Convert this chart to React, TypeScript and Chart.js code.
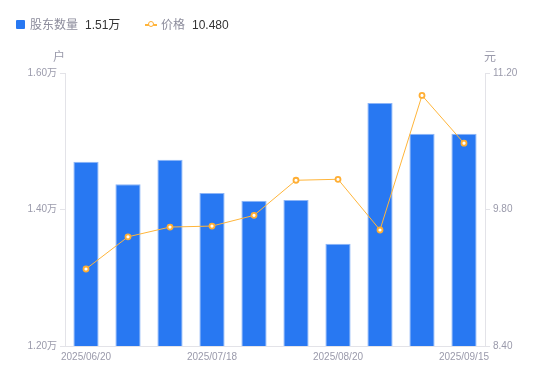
import React, { useEffect, useRef } from "react";
import { Chart, registerables } from "chart.js";

Chart.register(...registerables);

const categories = [
  "2025/06/20", "2025/06/30", "2025/07/10", "2025/07/18", "2025/07/31",
  "2025/08/08", "2025/08/20", "2025/08/31", "2025/09/10", "2025/09/15",
];
const holders = [1.47, 1.437, 1.473, 1.424, 1.413, 1.414, 1.35, 1.556, 1.511, 1.511];
const prices = [9.19, 9.52, 9.62, 9.63, 9.74, 10.10, 10.11, 9.59, 10.97, 10.48];
const leftTicks = [1.2, 1.4, 1.6];
const rightTicks = [8.4, 9.8, 11.2];

const FONT = "'Liberation Sans', 'Noto Sans CJK SC', sans-serif";
const GRAY = "#9a9aab";
const AXIS = "#e3e3e8";

export default function App() {
  const ref = useRef<HTMLCanvasElement | null>(null);
  useEffect(() => {
    if (!ref.current) return;
    const titles = {
      id: "axisTitles",
      afterDraw(chart: any) {
        const ctx = chart.ctx;
        const ca = chart.chartArea;
        ctx.save();
        ctx.font = "12px " + FONT;
        ctx.fillStyle = GRAY;
        ctx.textBaseline = "middle";
        ctx.textAlign = "center";
        ctx.fillText("户", ca.left - 6, 58);
        ctx.fillText("元", ca.right + 5, 58);
        ctx.restore();
      },
    };
    const chart = new Chart(ref.current, {
      type: "bar",
      data: {
        labels: categories,
        datasets: [
          {
            type: "line",
            label: "价格",
            data: prices,
            yAxisID: "y1",
            borderColor: "#FFB53A",
            borderWidth: 1,
            pointRadius: 2.5,
            pointBorderWidth: 1.8,
            pointBackgroundColor: "#ffffff",
            pointBorderColor: "#FFAE33",
            tension: 0,
            order: 0,
          } as any,
          {
            type: "bar",
            label: "股东数量",
            data: holders,
            yAxisID: "y",
            backgroundColor: "#2878F2",
            borderColor: "#8db5f7",
            borderWidth: { top: 1, left: 1, right: 1, bottom: 0 },
            categoryPercentage: 1,
            barPercentage: 0.6,
            order: 1,
          } as any,
        ],
      },
      options: {
        animation: false,
        responsive: false,
        maintainAspectRatio: false,
        layout: { padding: { top: 73, left: 0, right: 0, bottom: 0 } },
        plugins: { legend: { display: false }, tooltip: { enabled: false } },
        scales: {
          x: {
            grid: { display: false, drawTicks: false },
            border: { display: true, color: AXIS, width: 1 },
            afterFit: (s: any) => { s.height = 35; },
            ticks: {
              autoSkip: false,
              maxRotation: 0,
              padding: 5,
              color: GRAY,
              font: { size: 10, family: FONT },
              callback: (_v: any, i: number) => (i % 3 === 0 ? categories[i] : ""),
            },
          },
          y: {
            position: "left",
            min: 1.2,
            max: 1.6,
            afterFit: (s: any) => { s.width = 65; },
            afterBuildTicks: (s: any) => { s.ticks = leftTicks.map((v) => ({ value: v })); },
            grid: { drawOnChartArea: false, tickLength: 5, color: AXIS },
            border: { display: true, color: AXIS },
            ticks: {
              padding: 3,
              color: GRAY,
              font: { size: 10, family: FONT },
              callback: (v: any) => Number(v).toFixed(2) + "万",
            },
          },
          y1: {
            position: "right",
            min: 8.4,
            max: 11.2,
            afterFit: (s: any) => { s.width = 65; },
            afterBuildTicks: (s: any) => { s.ticks = rightTicks.map((v) => ({ value: v })); },
            grid: { drawOnChartArea: false, tickLength: 5, color: AXIS },
            border: { display: true, color: AXIS },
            ticks: {
              padding: 3,
              color: GRAY,
              font: { size: 10, family: FONT },
              callback: (v: any) => Number(v).toFixed(2),
            },
          },
        },
      } as any,
      plugins: [titles],
    });
    return () => chart.destroy();
  }, []);

  const txt: React.CSSProperties = { position: "absolute", top: 17, fontSize: 12, fontFamily: FONT, lineHeight: "16px" };
  return (
    <div style={{ position: "relative", width: 550, height: 381, margin: -8, background: "#fff" }}>
      <canvas ref={ref} width={550} height={381} style={{ position: "absolute", left: 0, top: 0 }} />
      <div style={{ position: "absolute", left: 16, top: 20, width: 9, height: 9, background: "#2878F2", borderRadius: 1 }} />
      <div style={{ ...txt, left: 30, color: "#8c8c9c" }}>股东数量</div>
      <div style={{ ...txt, left: 85, color: "#333" }}>1.51万</div>
      <div style={{ position: "absolute", left: 145, top: 24, width: 12, height: 1.5, background: "#FFB53A" }} />
      <div style={{ position: "absolute", left: 148, top: 21, width: 4, height: 4, borderRadius: "50%", border: "1.5px solid #FFAE33", background: "#fff" }} />
      <div style={{ ...txt, left: 161, color: "#8c8c9c" }}>价格</div>
      <div style={{ ...txt, left: 192, color: "#333" }}>10.480</div>
    </div>
  );
}
